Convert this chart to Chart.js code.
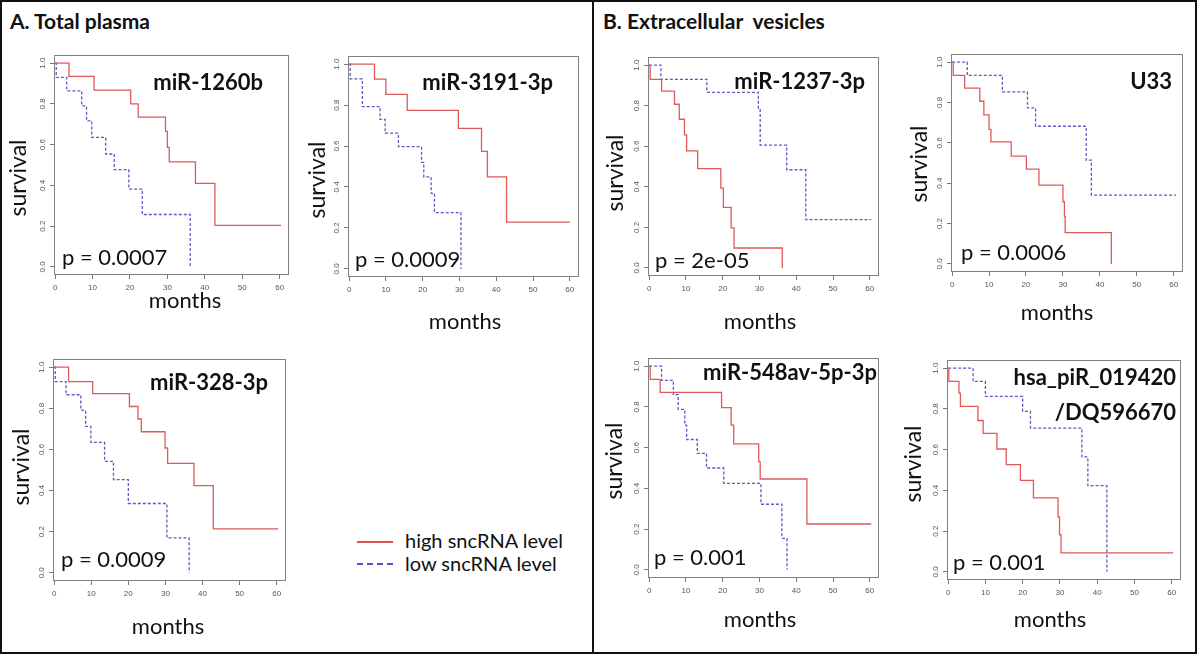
<!DOCTYPE html>
<html>
<head>
<meta charset="utf-8">
<script src="https://cdn.jsdelivr.net/npm/chart.js@4.4.1/dist/chart.umd.min.js"></script>
<style>
  body { margin: 0; background: #fff; width: 1199px; height: 655px; position: relative; overflow: hidden; }
  #frame { position: absolute; left: 0; top: 0; width: 1197px; height: 654px; border: 2px solid #111; box-sizing: border-box; }
  #divider { position: absolute; left: 592px; top: 0; width: 2px; height: 654px; background: #111; }
  .head { position: absolute; top: 8px; font: bold 21px Lato, sans-serif; white-space: pre; color: #111; }
  canvas { position: absolute; }
  .swatch { position: absolute; left: 357px; width: 36px; height: 0; }
  .key { position: absolute; left: 405px; font: 20px Lato, sans-serif; color: #111; line-height: 22px; }
</style>
</head>
<body>
<div id="frame"></div>
<div id="divider"></div>
<div class="head" style="left:10px">A. Total plasma</div>
<div class="head" style="left:603px">B. Extracellular  vesicles</div>

<div class="swatch" style="top:541px;border-top:2px solid #e05050"></div>
<div class="key" style="top:529px">high sncRNA level</div>
<div class="swatch" style="top:563px;border-top:2px dashed #5050c8"></div>
<div class="key" style="top:552px">low sncRNA level</div>

<script>
const xTicks = [0, 10, 20, 30, 40, 50, 60];
const yTicks = [0, 0.2, 0.4, 0.6, 0.8, 1.0];

// A. total plasma: miR-1260b
const a1HighTime = [0, 3.7, 10.4, 20.2, 22.2, 29.5, 30.0, 30.5, 37.5, 42.7, 60.4];
const a1HighSurv = [1, 0.935, 0.868, 0.80, 0.735, 0.665, 0.587, 0.515, 0.41, 0.204, 0.204];
const a1LowTime = [0, 0.3, 3.1, 7.1, 8.4, 9.8, 13.5, 15.8, 19.7, 23.3, 36.1];
const a1LowSurv = [1, 0.93, 0.864, 0.79, 0.717, 0.636, 0.554, 0.477, 0.382, 0.257, 0];

// miR-3191-3p
const a2HighTime = [0, 6.9, 10.0, 15.8, 29.7, 36.0, 37.6, 42.8, 60.0];
const a2HighSurv = [1, 0.927, 0.852, 0.774, 0.686, 0.574, 0.449, 0.228, 0.228];
const a2LowTime = [0, 0.3, 3.6, 8.4, 9.8, 13.4, 19.7, 20.3, 22.3, 23.2, 30.4];
const a2LowSurv = [1, 0.928, 0.793, 0.73, 0.663, 0.597, 0.52, 0.449, 0.369, 0.275, 0];

// miR-328-3p
const a3HighTime = [0, 3.9, 10.4, 20.3, 22.6, 23.5, 29.9, 30.6, 37.7, 42.9, 60.4];
const a3HighSurv = [1, 0.93, 0.872, 0.809, 0.748, 0.686, 0.607, 0.532, 0.424, 0.214, 0.214];
const a3LowTime = [0, 0.3, 3.2, 7.2, 8.5, 9.9, 13.6, 16.0, 20.0, 30.4, 36.4];
const a3LowSurv = [1, 0.93, 0.866, 0.791, 0.712, 0.634, 0.542, 0.453, 0.337, 0.17, 0];

// B. extracellular vesicles: miR-1237-3p
const b1HighTime = [0, 0.3, 3.4, 6.9, 8.2, 9.6, 10.2, 13.2, 19.5, 20.2, 22.3, 23.1, 36.2];
const b1HighSurv = [1, 0.93, 0.872, 0.807, 0.733, 0.656, 0.577, 0.49, 0.393, 0.298, 0.197, 0.098, 0];
const b1LowTime = [0, 3.2, 15.7, 29.7, 30.2, 37.4, 42.6, 60.4];
const b1LowSurv = [1, 0.93, 0.866, 0.78, 0.605, 0.484, 0.238, 0.238];

// U33
const b2HighTime = [0, 0.3, 3.4, 7.5, 8.6, 10.0, 10.5, 16.0, 20.1, 23.5, 30.0, 30.4, 30.6, 43.1];
const b2HighSurv = [1, 0.934, 0.871, 0.806, 0.738, 0.667, 0.605, 0.534, 0.47, 0.39, 0.308, 0.234, 0.155, 0];
const b2LowTime = [0, 4.1, 13.6, 20.4, 22.6, 36.3, 37.7, 60.6];
const b2LowSurv = [1, 0.934, 0.852, 0.773, 0.682, 0.514, 0.341, 0.341];

// miR-548av-5p-3p
const b3HighTime = [0, 0.3, 3.0, 19.7, 22.3, 23.0, 29.8, 30.2, 42.9, 60.4];
const b3HighSurv = [1, 0.935, 0.871, 0.796, 0.71, 0.618, 0.531, 0.446, 0.225, 0.225];
const b3LowTime = [0, 3.4, 6.6, 7.9, 9.7, 10.2, 13.1, 15.6, 20.3, 30.4, 36.1, 37.5];
const b3LowSurv = [1, 0.93, 0.86, 0.788, 0.71, 0.64, 0.572, 0.5, 0.425, 0.322, 0.155, 0];

// hsa_piR_019420/DQ596670
const b4HighTime = [0, 0.2, 2.9, 3.3, 8.0, 9.4, 13.1, 15.6, 19.4, 22.9, 29.5, 29.9, 30.3, 60.4];
const b4HighSurv = [1, 0.935, 0.877, 0.812, 0.743, 0.68, 0.603, 0.526, 0.449, 0.363, 0.27, 0.183, 0.093, 0.093];
const b4LowTime = [0, 6.7, 10.0, 20.0, 22.1, 35.9, 37.5, 42.6];
const b4LowSurv = [1, 0.935, 0.861, 0.788, 0.706, 0.564, 0.423, 0];

const HIGH_COLOR = '#e05a5a';
const LOW_COLOR = '#5a5ac8';

// box = plot frame [left, top, right, bottom] in page pixels; text anchors also in page pixels
const panels = [
  { name: ['miR-1260b'], p: 'p = 0.0007', box: [54, 55, 289, 275],
    nameAt: [263, 83], pAt: [62, 258], survAt: [19, 178], monthsAt: [185, 301],
    high: [a1HighTime, a1HighSurv], low: [a1LowTime, a1LowSurv] },
  { name: ['miR-3191-3p'], p: 'p = 0.0009', box: [348, 56, 579, 277],
    nameAt: [553, 83], pAt: [355, 260], survAt: [318, 180], monthsAt: [465, 322],
    high: [a2HighTime, a2HighSurv], low: [a2LowTime, a2LowSurv] },
  { name: ['miR-328-3p'], p: 'p = 0.0009', box: [53, 359, 286, 581],
    nameAt: [268, 383], pAt: [61, 560], survAt: [22, 467], monthsAt: [168, 627],
    high: [a3HighTime, a3HighSurv], low: [a3LowTime, a3LowSurv] },
  { name: ['miR-1237-3p'], p: 'p = 2e-05', box: [648, 57, 879, 276],
    nameAt: [865, 82], pAt: [655, 261], survAt: [616, 173], monthsAt: [760, 322],
    high: [b1HighTime, b1HighSurv], low: [b1LowTime, b1LowSurv] },
  { name: ['U33'], p: 'p = 0.0006', box: [951, 54, 1183, 272],
    nameAt: [1172, 82], pAt: [961, 253], survAt: [920, 164], monthsAt: [1057, 313],
    high: [b2HighTime, b2HighSurv], low: [b2LowTime, b2LowSurv] },
  { name: ['miR-548av-5p-3p'], p: 'p = 0.001', box: [648, 358, 879, 578],
    nameAt: [877, 373], pAt: [654, 558], survAt: [615, 461], monthsAt: [760, 620],
    high: [b3HighTime, b3HighSurv], low: [b3LowTime, b3LowSurv] },
  { name: ['hsa_piR_019420', '/DQ596670'], p: 'p = 0.001', box: [947, 360, 1181, 580],
    nameAt: [1176, 378], pAt: [953, 563], survAt: [914, 464], monthsAt: [1050, 620],
    high: [b4HighTime, b4HighSurv], low: [b4LowTime, b4LowSurv] }
];

const toPoints = (ts, ss) => ts.map((x, i) => ({ x, y: ss[i] }));

// frame, rotated y labels and the panel texts
const kmText = {
  id: 'kmText',
  afterDraw(chart, args, opts) {
    const ctx = chart.ctx;
    const area = chart.chartArea;
    const yScale = chart.scales.y;
    const [ox, oy] = opts.origin;
    ctx.save();
    ctx.strokeStyle = '#808080';
    ctx.lineWidth = 1;
    ctx.strokeRect(Math.round(area.left) + 0.5, Math.round(area.top) + 0.5,
      Math.round(area.width) - 1, Math.round(area.height) - 1);

    ctx.fillStyle = '#555';
    ctx.font = '8px "Liberation Sans", sans-serif';
    ctx.textAlign = 'center';
    ctx.textBaseline = 'middle';
    yScale.ticks.forEach(t => {
      ctx.save();
      ctx.translate(area.left - 11, yScale.getPixelForValue(t.value));
      ctx.rotate(-Math.PI / 2);
      ctx.fillText(t.value.toFixed(1), 0, 0);
      ctx.restore();
    });

    ctx.fillStyle = '#111';
    ctx.font = '23px Lato, sans-serif';
    ctx.save();
    ctx.translate(opts.survAt[0] - ox, opts.survAt[1] - oy);
    ctx.rotate(-Math.PI / 2);
    ctx.fillText('survival', 0, 0);
    ctx.restore();

    ctx.font = '22px Lato, sans-serif';
    ctx.fillText('months', opts.monthsAt[0] - ox, opts.monthsAt[1] - oy);

    ctx.font = '22px Lato, sans-serif';
    ctx.textAlign = 'left';
    ctx.fillText(opts.p, opts.pAt[0] - ox, opts.pAt[1] - oy);

    ctx.font = 'bold 22px Lato, sans-serif';
    ctx.textAlign = 'right';
    opts.name.forEach((line, i) => {
      ctx.fillText(line, opts.nameAt[0] - ox, opts.nameAt[1] - oy + i * 35);
    });
    ctx.restore();
  }
};

panels.forEach(panel => {
  const [l, t, r, b] = panel.box;
  const left = l - 50, top = t - 12;
  const canvas = document.createElement('canvas');
  canvas.width = r - l + 65;
  canvas.height = b - t + 74;
  canvas.style.left = left + 'px';
  canvas.style.top = top + 'px';
  document.body.appendChild(canvas);

  new Chart(canvas, {
    type: 'line',
    data: {
      datasets: [
        { label: 'high sncRNA level', data: toPoints(panel.high[0], panel.high[1]),
          borderColor: HIGH_COLOR, borderWidth: 1.3, stepped: true, pointRadius: 0, fill: false },
        { label: 'low sncRNA level', data: toPoints(panel.low[0], panel.low[1]),
          borderColor: LOW_COLOR, borderWidth: 1.3, borderDash: [3, 2], stepped: true, pointRadius: 0, fill: false }
      ]
    },
    options: {
      responsive: false,
      animation: false,
      devicePixelRatio: 1,
      layout: { padding: { left: 0, top: 12, right: 15, bottom: 0 } },
      scales: {
        x: {
          type: 'linear', min: -0.3, max: 62.5,
          afterBuildTicks: s => { s.ticks = xTicks.map(v => ({ value: v })); },
          afterFit: s => { s.height = 62; },
          ticks: { color: '#555', font: { size: 8, family: '"Liberation Sans", sans-serif' }, padding: 4, maxRotation: 0 },
          grid: { drawOnChartArea: false, tickLength: 4, color: '#777' },
          border: { display: false }
        },
        y: {
          type: 'linear', min: -0.04, max: 1.04,
          afterBuildTicks: s => { s.ticks = yTicks.map(v => ({ value: v })); },
          afterFit: s => { s.width = 50; },
          ticks: { display: false },
          grid: { drawOnChartArea: false, tickLength: 4, color: '#777' },
          border: { display: false }
        }
      },
      plugins: {
        legend: { display: false },
        tooltip: { enabled: false },
        kmText: { origin: [left, top], name: panel.name, p: panel.p,
          nameAt: panel.nameAt, pAt: panel.pAt, survAt: panel.survAt, monthsAt: panel.monthsAt }
      }
    },
    plugins: [kmText]
  });
});
</script>
</body>
</html>
